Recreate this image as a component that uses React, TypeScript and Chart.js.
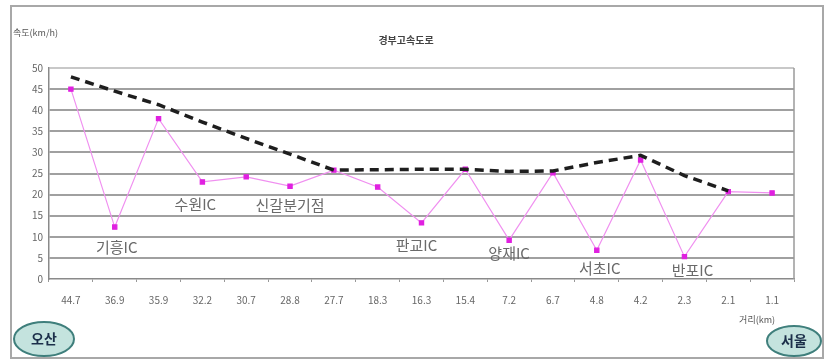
import React, { useEffect, useRef } from "react";
import { Chart, registerables } from "chart.js";

Chart.register(...registerables);

const categories = ["44.7", "36.9", "35.9", "32.2", "30.7", "28.8", "27.7", "18.3", "16.3", "15.4", "7.2", "6.7", "4.8", "4.2", "2.3", "2.1", "1.1"];
const speedValues = [45, 12.3, 38, 23, 24.2, 22, 25.8, 21.8, 13.3, 26, 9.2, 25.2, 6.8, 28.2, 5.3, 20.7, 20.4];
const trendValues = [47.9, 44.5, 41.3, 37.2, 33.3, 29.6, 25.8, 25.9, 26, 26, 25.5, 25.6, 27.6, 29.3, 24.5, 20.9, null];
const yTicks = [0, 5, 10, 15, 20, 25, 30, 35, 40, 45, 50];
const icLabels = [
  { index: 1, text: "기흥IC", dx: 2, dy: 20 },
  { index: 3, text: "수원IC", dx: -7, dy: 22 },
  { index: 5, text: "신갈분기점", dx: 0, dy: 19 },
  { index: 8, text: "판교IC", dx: -5, dy: 22 },
  { index: 10, text: "양재IC", dx: 0, dy: 13 },
  { index: 12, text: "서초IC", dx: 3, dy: 18 },
  { index: 14, text: "반포IC", dx: 8, dy: 14 },
];
const chartTitle = "경부고속도로";
const yAxisTitle = "속도(km/h)";
const xAxisTitle = "거리(km)";
const startName = "오산";
const endName = "서울";

const FONT = "'Noto Sans CJK KR', 'Noto Sans', sans-serif";

const decorPlugin = {
  id: "decor",
  beforeDraw(chart: any) {
    const { ctx, width, height } = chart;
    ctx.save();
    ctx.fillStyle = "#ffffff";
    ctx.fillRect(0, 0, width, height);
    ctx.restore();
  },
  afterDraw(chart: any) {
    const { ctx, chartArea } = chart;
    const xs = chart.scales.x;
    const ys = chart.scales.y;
    ctx.save();
    // outer frame
    ctx.strokeStyle = "#a8a8a8";
    ctx.lineWidth = 2;
    ctx.strokeRect(11, 6, 812, 352);
    // right border of plot
    ctx.strokeStyle = "#9a9a9a";
    ctx.lineWidth = 1.5;
    ctx.beginPath();
    ctx.moveTo(chartArea.right, chartArea.top);
    ctx.lineTo(chartArea.right, chartArea.bottom);
    ctx.stroke();

    // title
    ctx.fillStyle = "#444";
    ctx.font = `bold 10px ${FONT}`;
    ctx.textAlign = "center";
    ctx.textBaseline = "middle";
    ctx.fillText(chartTitle, 406, 40);

    // y axis title
    ctx.font = `9px ${FONT}`;
    ctx.textAlign = "left";
    ctx.fillStyle = "#555";
    ctx.fillText(yAxisTitle, 13, 33);

    // IC labels
    ctx.font = `15px ${FONT}`;
    ctx.textAlign = "center";
    ctx.fillStyle = "#6a6a6a";
    icLabels.forEach((l) => {
      const x = xs.getPixelForValue(l.index);
      const y = ys.getPixelForValue(speedValues[l.index]);
      ctx.fillText(l.text, x + l.dx, y + l.dy);
    });

    // x axis title
    const lastX = xs.getPixelForValue(categories.length - 1);
    ctx.font = `9px ${FONT}`;
    ctx.fillStyle = "#555";
    ctx.textAlign = "center";
    ctx.fillText(xAxisTitle, lastX - 15, 320);

    // ellipses
    const drawBadge = (cx: number, cy: number, rx: number, ry: number, text: string) => {
      ctx.beginPath();
      ctx.ellipse(cx, cy, rx, ry, 0, 0, Math.PI * 2);
      ctx.fillStyle = "#c4e3de";
      ctx.fill();
      ctx.strokeStyle = "#3f7f7c";
      ctx.lineWidth = 2;
      ctx.stroke();
      ctx.fillStyle = "#1c2f4a";
      ctx.font = `bold 14px ${FONT}`;
      ctx.textAlign = "center";
      ctx.textBaseline = "middle";
      ctx.fillText(text, cx, cy);
    };
    drawBadge(44, 339, 30, 17, startName);
    drawBadge(794, 341, 27, 15, endName);
    ctx.restore();
  },
};

export default function App() {
  const canvasRef = useRef<HTMLCanvasElement | null>(null);

  useEffect(() => {
    if (!canvasRef.current) return;
    const chart = new Chart(canvasRef.current, {
      type: "line",
      data: {
        labels: categories,
        datasets: [
          {
            label: "추세",
            data: trendValues,
            borderColor: "#1e1e1e",
            borderWidth: 3.5,
            borderDash: [9, 6],
            pointRadius: 0,
            fill: false,
            tension: 0,
            spanGaps: false,
          },
          {
            label: "속도",
            data: speedValues,
            borderColor: "#f090f0",
            borderWidth: 1.2,
            pointStyle: "rect",
            pointRadius: 3,
            pointBackgroundColor: "#e020e0",
            pointBorderColor: "#e020e0",
            fill: false,
            tension: 0,
          },
        ],
      },
      options: {
        animation: false,
        responsive: false,
        maintainAspectRatio: false,
        layout: { padding: { left: 12, right: 30, top: 68, bottom: 0 } },
        plugins: {
          legend: { display: false },
          title: { display: false },
          tooltip: { enabled: false },
        },
        scales: {
          x: {
            type: "category",
            offset: true,
            grid: {
              offset: true,
              drawOnChartArea: false,
              drawTicks: true,
              tickLength: 3,
              color: "#999",
            },
            border: { display: true, color: "#8a8a8a", width: 1.5 },
            ticks: {
              color: "#666",
              font: { size: 10, family: FONT },
              padding: 12,
              maxRotation: 0,
              autoSkip: false,
            },
            afterFit: (scale: any) => {
              scale.height = 82;
            },
          },
          y: {
            min: 0,
            max: 50,
            afterBuildTicks: (scale: any) => {
              scale.ticks = yTicks.map((v) => ({ value: v }));
            },
            grid: {
              color: (c: any) => (c.tick && c.tick.value === 50 ? "#c8c8c8" : c.tick && c.tick.value === 0 ? "rgba(0,0,0,0)" : "#a0a0a0"),
              lineWidth: 2,
              drawTicks: false,
            },
            border: { display: true, color: "#8a8a8a", width: 1.5 },
            ticks: {
              color: "#666",
              font: { size: 10, family: FONT },
              padding: 6,
            },
            afterFit: (scale: any) => {
              scale.width = 37;
            },
          },
        },
      },
      plugins: [decorPlugin],
    });
    return () => chart.destroy();
  }, []);

  return (
    <div style={{ position: "absolute", left: 0, top: 0, width: 824, height: 361, background: "#fff" }}>
      <canvas ref={canvasRef} width={824} height={361} style={{ width: 824, height: 361, display: "block" }} />
    </div>
  );
}
